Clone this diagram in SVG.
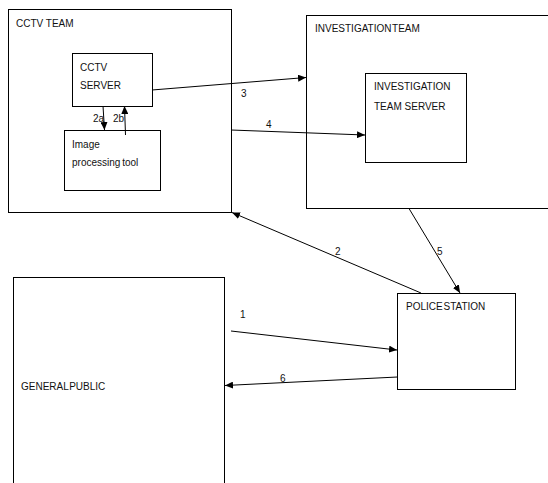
<svg xmlns="http://www.w3.org/2000/svg" width="548" height="483" viewBox="0 0 548 483">
<defs>
<marker id="arr" markerUnits="userSpaceOnUse" markerWidth="8" markerHeight="7" refX="8" refY="3.5" orient="auto">
<path d="M0,0 L8,3.5 L0,7 z" fill="#000"/>
</marker>
<style>
.box{fill:#fff;stroke:#000;stroke-width:1}
.t{font-family:"Liberation Sans",Arial,sans-serif;font-size:10px;fill:#111}
.k{word-spacing:-2px}
.c{stroke:#000;stroke-width:1;fill:none;marker-end:url(#arr)}
</style>
</defs>
<rect width="548" height="483" fill="#fff"/>
<g id="cctv-team">
<rect class="box" x="8.5" y="9.5" width="223" height="203"/>
<text class="t" x="16" y="27">CCTV TEAM</text>
</g>
<g id="cctv-server">
<rect class="box" x="72.5" y="53.5" width="80" height="53"/>
<text class="t" x="80" y="71">CCTV</text>
<text class="t" x="80" y="89">SERVER</text>
</g>
<g id="image-tool">
<rect class="box" x="64.5" y="130.5" width="96" height="60"/>
<text class="t" x="72" y="148">Image</text>
<text class="t" x="72" y="166" style="word-spacing:-1px">processing tool</text>
</g>
<g id="investigation-team">
<rect class="box" x="306.5" y="15.5" width="250" height="193"/>
<text class="t k" x="315" y="32">INVESTIGATION TEAM</text>
</g>
<g id="investigation-server">
<rect class="box" x="365.5" y="73.5" width="101" height="89"/>
<text class="t" x="374" y="90">INVESTIGATION</text>
<text class="t" x="374" y="110">TEAM SERVER</text>
</g>
<g id="police-station">
<rect class="box" x="397.5" y="293.5" width="118" height="96"/>
<text class="t k" x="406" y="310">POLICE STATION</text>
</g>
<g id="general-public">
<rect class="box" x="13.5" y="277.5" width="211" height="214"/>
<text class="t k" x="21" y="390">GENERAL PUBLIC</text>
</g>
<g id="connectors">
<line class="c" x1="103" y1="106" x2="104.5" y2="130"/>
<line class="c" x1="125.5" y1="135" x2="124.5" y2="106"/>
<line class="c" x1="152" y1="90" x2="306" y2="77.5"/>
<line class="c" x1="231" y1="130" x2="365" y2="135"/>
<line class="c" x1="421" y1="293" x2="232" y2="212.5"/>
<line class="c" x1="409" y1="208.5" x2="460" y2="293"/>
<line class="c" x1="231" y1="331" x2="397" y2="350"/>
<line class="c" x1="397.5" y1="377" x2="225" y2="385.5"/>
<text class="t" x="93" y="122">2a</text>
<text class="t" x="113" y="122">2b</text>
<text class="t" x="241" y="97">3</text>
<text class="t" x="266" y="128">4</text>
<text class="t" x="335" y="255">2</text>
<text class="t" x="437" y="255">5</text>
<text class="t" x="240" y="318">1</text>
<text class="t" x="280" y="382">6</text>
</g>
</svg>
